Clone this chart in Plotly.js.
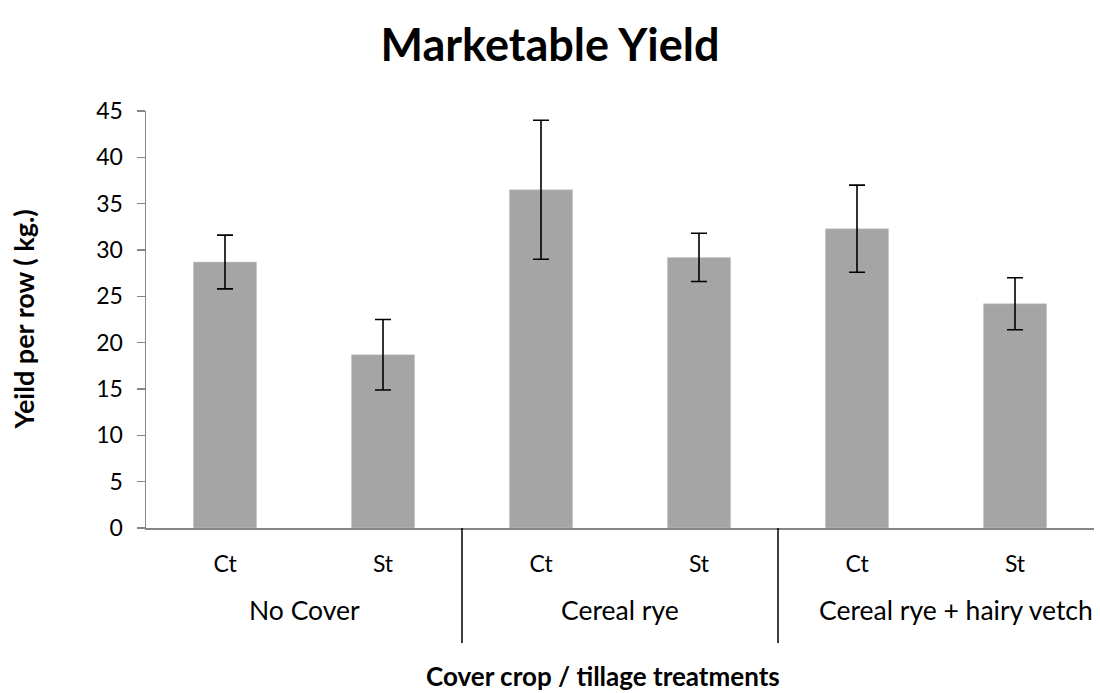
<!DOCTYPE html>
<html><head><meta charset="utf-8">
<script src="https://cdn.plot.ly/plotly-3.0.1.min.js"></script>
<style>html,body{margin:0;padding:0;background:#fff}#chart{width:1100px;height:693px}</style>
</head><body><div id="chart"></div>
<script>
const groups = ["No Cover","No Cover","Cereal rye","Cereal rye","Cereal rye + hairy vetch","Cereal rye + hairy vetch"];
const tillage = ["Ct","St","Ct","St","Ct","St"];
const yieldKg = [28.7, 18.7, 36.5, 29.2, 32.3, 24.2];
const errKg = [2.9, 3.8, 7.5, 2.6, 4.7, 2.8];
const yTicks = [0,5,10,15,20,25,30,35,40,45];

const font = "Lato, 'Open Sans', sans-serif";
const pos = tillage.map((_, i) => i);

// group label positions and divider positions derived from the group array
const groupNames = [];
const groupCenters = [];
const dividers = [];
groups.forEach((g, i) => {
  if (i === 0 || g !== groups[i - 1]) {
    if (i > 0) dividers.push(i - 0.5);
    groupNames.push(g);
    const idx = groups.map((v, j) => v === g ? j : null).filter(v => v !== null);
    groupCenters.push(idx.reduce((a, b) => a + b, 0) / idx.length);
  }
});

const annotations = groupNames.map((g, k) => ({
  text: g, x: groupCenters[k], xref: 'x', y: 0, yref: 'paper',
  yanchor: 'middle', xanchor: 'center', yshift: -82,
  xshift: k === groupNames.length - 1 ? 20 : 0, showarrow: false,
  font: {family: font, size: 26.5, color: '#000'}
}));
annotations.push({
  text: '<b>Cover crop / tillage treatments</b>', x: 0.5, xref: 'paper', y: 0, yref: 'paper',
  yanchor: 'middle', xanchor: 'center', yshift: -148, xshift: -17, showarrow: false,
  font: {family: font, size: 26, color: '#000'}
});
annotations.push({
  text: '<b>Yeild per row ( kg.)</b>', x: 0, xref: 'paper', y: 0.5, yref: 'paper',
  xanchor: 'center', yanchor: 'middle', xshift: -123, textangle: -90, showarrow: false,
  font: {family: font, size: 27, color: '#000'}
});

const shapes = dividers.map(d => ({
  type: 'line', xref: 'x', yref: 'paper', x0: d, x1: d, y0: 0, y1: -0.276,
  line: {color: '#000', width: 1.5}
}));

Plotly.newPlot('chart', [{
  type: 'bar',
  x: pos,
  y: yieldKg,
  width: 0.4,
  marker: {color: '#a5a5a5', line: {color: '#c8c8c8', width: 0.5}},
  error_y: {type: 'data', array: errKg, visible: true, color: '#000', thickness: 1.6, width: 8}
}], {
  width: 1100, height: 693,
  margin: {l: 146, r: 6, t: 111, b: 165},
  paper_bgcolor: '#fff', plot_bgcolor: '#fff',
  showlegend: false,
  title: {text: '<b>Marketable Yield</b>', font: {family: font, size: 45, color: '#000'}, x: 0.5, xanchor: 'center', y: 0.935, yanchor: 'middle'},
  xaxis: {
    range: [-0.5, tillage.length - 0.5],
    tickvals: pos, ticktext: tillage,
    showline: true, linecolor: '#868686', linewidth: 1.5,
    ticks: '', showgrid: false, zeroline: false,
    ticklabelstandoff: 15,
    tickfont: {family: font, size: 23, color: '#000'}
  },
  yaxis: {
    range: [0, 45], tickvals: yTicks, ticktext: yTicks.map(String),
    showline: true, linecolor: '#868686', linewidth: 1.5,
    ticks: 'outside', ticklen: 8, tickcolor: '#868686', tickwidth: 1.5,
    ticklabelstandoff: 9,
    showgrid: false, zeroline: false,
    tickfont: {family: font, size: 23, color: '#000'}
  },
  annotations: annotations,
  shapes: shapes
}, {displayModeBar: false, staticPlot: true});
</script></body></html>
